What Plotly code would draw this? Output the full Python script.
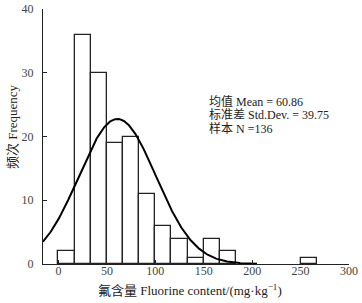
import numpy as np
import plotly.graph_objects as go

bin_width = 100 / 6
bin_starts = [0, 1, 2, 3, 4, 5, 6, 7, 8, 9, 10, 15]  # in bin-width units
counts = [2, 36, 30, 19, 20, 11, 6, 4, 1, 4, 2, 1]
mean_val = 60.86
sd_val = 39.75
n_val = 136
x_ticks = [0, 50, 100, 150, 200, 250, 300]
y_ticks = [0, 10, 20, 30, 40]
stat_lines = ["均值 Mean = 60.86", "标准差 Std.Dev. = 39.75", "样本 N =136"]

centers = [(b + 0.5) * bin_width for b in bin_starts]

xc = np.linspace(-16, 205, 300)
yc = n_val * bin_width / (sd_val * np.sqrt(2 * np.pi)) * np.exp(-((xc - mean_val) ** 2) / (2 * sd_val ** 2))

serif = "Liberation Serif, Noto Sans CJK SC, serif"

fig = go.Figure()
fig.add_trace(go.Bar(x=centers, y=counts, width=[bin_width] * len(counts),
                     marker=dict(color="white", line=dict(color="#222", width=1.3)),
                     showlegend=False))
fig.add_trace(go.Scatter(x=xc, y=yc, mode="lines", line=dict(color="black", width=2),
                         showlegend=False))

annots = []
for i, t in enumerate(stat_lines):
    annots.append(dict(text=t, xref="paper", yref="paper",
                       x=(207 - 43) / 306, y=1 - (101 + 13.5 * i - 9) / 255,
                       xanchor="left", yanchor="middle", align="left", showarrow=False,
                       font=dict(family=serif, size=12, color="#222")))
annots += [
    dict(text="氟含量 Fluorine content/(mg·kg<sup>−1</sup>)",
         xref="paper", yref="paper", x=(190 - 43) / 306, y=1 - (290 - 9) / 255,
         xanchor="center", yanchor="middle", showarrow=False,
         font=dict(family=serif, size=13, color="#222")),
    dict(text="频次 Frequency", textangle=-90,
         xref="paper", yref="paper", x=(12 - 43) / 306, y=1 - (127 - 9) / 255,
         xanchor="center", yanchor="middle", showarrow=False,
         font=dict(family=serif, size=13, color="#222")),
]

fig.update_layout(
    width=362, height=303,
    margin=dict(l=43, r=13, t=9, b=39, autoexpand=False),
    paper_bgcolor="white", plot_bgcolor="white",
    font=dict(family=serif, size=12, color="#444"),
    bargap=0,
    xaxis=dict(range=[-16, 300], tickvals=x_ticks, ticks="inside", ticklen=4,
               tickcolor="#222", showline=True, linecolor="#222", linewidth=1.2,
               showgrid=False, zeroline=False, tickfont=dict(size=12, color="#444"),
               ticklabelstandoff=-5, automargin=False),
    yaxis=dict(range=[0, 40], tickvals=y_ticks, ticks="inside", ticklen=4,
               tickcolor="#222", showline=True, linecolor="#222", linewidth=1.2,
               showgrid=False, zeroline=False, tickfont=dict(size=12, color="#444"),
               ticklabelstandoff=6, automargin=False),
    annotations=annots,
)

fig.write_html("out.html", config={"displayModeBar": False},
               post_script="document.body.style.margin='0';")
